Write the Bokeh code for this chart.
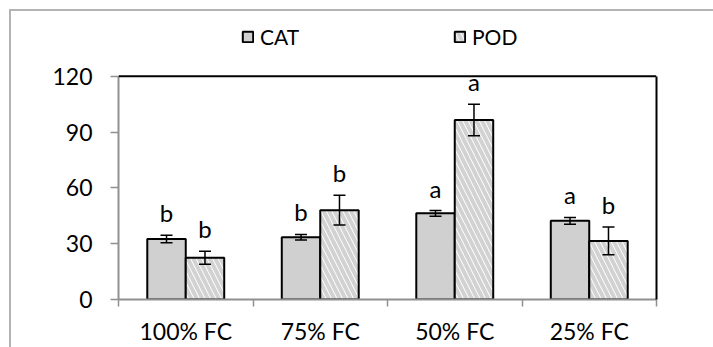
import numpy as np
from bokeh.plotting import figure
from bokeh.models import (ColumnDataSource, Range1d, FixedTicker, Whisker, Span,
                          Legend, LegendItem, TeeHead, LinearAxis)
from bokeh.core.properties import value
from bokeh.embed import file_html
from bokeh.resources import INLINE

# ---- data ----
categories = ["100% FC", "75% FC", "50% FC", "25% FC"]
cat_values = [32.5, 33.5, 46.3, 42.3]
cat_err = [2.0, 1.5, 1.5, 1.8]
pod_values = [22.5, 48.0, 96.5, 31.5]
pod_err = [3.5, 8.0, 8.5, 7.5]
cat_letters = ["b", "b", "a", "a"]
pod_letters = ["b", "b", "a", "b"]
y_ticks = [0, 30, 60, 90, 120]
y_max = 120

FONT = "Lato"
BW = 0.286

# layout (pixels)
FRAME_TOP = 12      # frame extends above the 120 line to hold the legend
AXIS_TOP = 76       # where y = 120 sits
AXIS_BOTTOM = 300   # where y = 0 sits
y_end = y_max * (AXIS_BOTTOM - FRAME_TOP) / (AXIS_BOTTOM - AXIS_TOP)

centers = np.arange(len(categories)) + 0.5
x_cat = centers - BW / 2
x_pod = centers + BW / 2

src_cat = ColumnDataSource(dict(x=x_cat, top=cat_values,
                                upper=np.array(cat_values) + np.array(cat_err),
                                lower=np.array(cat_values) - np.array(cat_err),
                                lab=cat_letters))
src_pod = ColumnDataSource(dict(x=x_pod, top=pod_values,
                                upper=np.array(pod_values) + np.array(pod_err),
                                lower=np.array(pod_values) - np.array(pod_err),
                                lab=pod_letters))

p = figure(width=713, height=347, output_backend="svg", toolbar_location=None,
           x_range=Range1d(0, len(categories)), y_range=Range1d(0, y_end),
           min_border_left=118, min_border_right=57, min_border_top=FRAME_TOP,
           min_border_bottom=47)
p.styles = {"background": "linear-gradient(#b4b4b4, #b4b4b4) 9px 9px / 2px 100% no-repeat, "
                          "linear-gradient(#b4b4b4, #b4b4b4) 9px 9px / 100% 2px no-repeat, #ffffff"}
p.outline_line_color = None
p.xgrid.visible = False
p.ygrid.visible = False
p.background_fill_color = "white"
p.border_fill_color = None

r_cat = p.vbar(x="x", top="top", width=BW, bottom=0, source=src_cat,
               fill_color="#d0d0d0", line_color="black", line_width=2)
r_pod = p.vbar(x="x", top="top", width=BW, bottom=0, source=src_pod,
               fill_color="white", line_color="black", line_width=2,
               hatch_pattern="\\", hatch_color="#d2d2d2", hatch_weight=4,
               hatch_scale=11)

for src in (src_cat, src_pod):
    w = Whisker(base="x", upper="upper", lower="lower", source=src,
                line_color="black", line_width=1.5, level="annotation",
                upper_head=TeeHead(size=12, line_color="black", line_width=1.5),
                lower_head=TeeHead(size=12, line_color="black", line_width=1.5))
    p.add_layout(w)
    p.text(x="x", y="upper", text="lab", source=src, text_align="center",
           text_baseline="bottom", y_offset=-8, text_font=value(FONT),
           text_font_size="24px", text_color="black")

# frame top line at y = 120
p.add_layout(Span(location=y_max, dimension="width", line_color="black", line_width=2))

# axes
ax = p.xaxis[0]
ax.ticker = FixedTicker(ticks=list(centers), minor_ticks=list(range(len(categories) + 1)))
ax.major_label_overrides = {float(c): lab for c, lab in zip(centers, categories)}
ax.major_tick_line_color = None
ax.major_tick_out = 0
ax.major_tick_in = 0
ax.minor_tick_line_color = "#909090"
ax.minor_tick_line_width = 1.5
ax.minor_tick_out = 7
ax.minor_tick_in = 0
ax.axis_line_color = "#909090"
ax.axis_line_width = 2
ax.major_label_standoff = 10
ax.major_label_text_font = FONT
ax.major_label_text_font_size = "23px"
ax.major_label_text_color = "black"

ay = p.yaxis[0]
ay.bounds = (0, y_max)
ay.ticker = FixedTicker(ticks=y_ticks)
ay.minor_tick_line_color = None
ay.major_tick_line_color = "#909090"
ay.major_tick_line_width = 1.5
ay.major_tick_out = 8
ay.major_tick_in = 0
ay.axis_line_color = "#909090"
ay.axis_line_width = 2
ay.major_label_standoff = 18
ay.major_label_text_font = FONT
ay.major_label_text_font_size = "23px"
ay.major_label_text_color = "black"

# right frame edge as an axis line limited to 0..120
ar = LinearAxis(bounds=(0, y_max), ticker=FixedTicker(ticks=[]),
                axis_line_color="black", axis_line_width=2,
                major_tick_line_color=None, minor_tick_line_color=None,
                major_label_text_font_size="0px")
p.add_layout(ar, "right")

legend = Legend(items=[LegendItem(label="CAT", renderers=[r_cat]),
                       LegendItem(label="POD", renderers=[r_pod])],
                orientation="horizontal", location=(123, 250),
                glyph_width=13, glyph_height=13, label_standoff=6,
                label_width=193, spacing=0, padding=0, margin=0,
                border_line_color=None, background_fill_alpha=0,
                label_text_font=FONT, label_text_font_size="21px",
                label_text_color="black")
p.add_layout(legend, "center")

open("out.html", "w").write(file_html(p, INLINE))
